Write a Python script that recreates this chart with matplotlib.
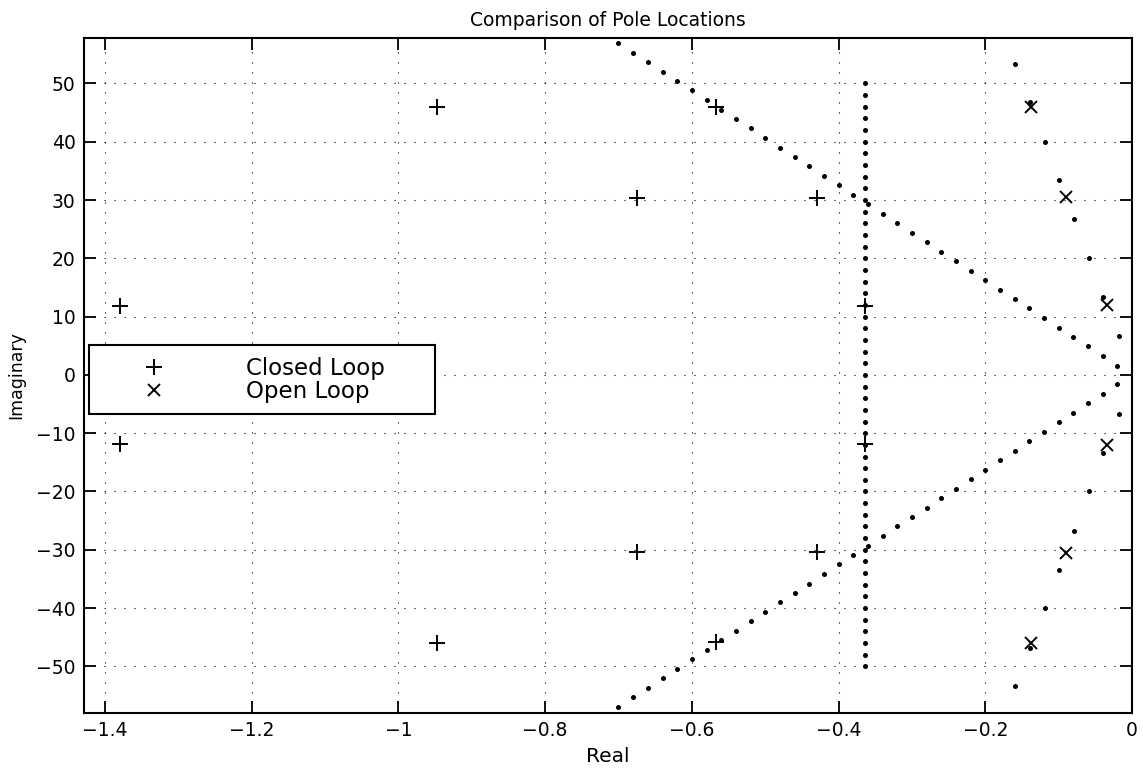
import numpy as np
import matplotlib
matplotlib.use('Agg')
import matplotlib.pyplot as plt

# closed loop poles (real, imaginary)
closed_re = [-1.380, -1.380, -0.947, -0.947, -0.675, -0.675,
             -0.567, -0.567, -0.430, -0.430, -0.364, -0.364]
closed_im = [11.9, -11.9, 46.0, -46.0, 30.4, -30.4,
             45.9, -45.9, 30.4, -30.4, 11.9, -11.9]

# open loop poles
open_re = [-0.137, -0.137, -0.090, -0.090, -0.034, -0.034]
open_im = [46.0, -46.0, 30.5, -30.5, 12.0, -12.0]

# constant damping ratio boundary (upper half, mirrored below)
zeta_re = [-0.70, -0.68, -0.66, -0.64, -0.62, -0.60, -0.58, -0.56, -0.54,
           -0.52, -0.50, -0.48, -0.46, -0.44, -0.42, -0.40, -0.38, -0.36,
           -0.34, -0.32, -0.30, -0.28, -0.26, -0.24, -0.22, -0.20, -0.18,
           -0.16, -0.14, -0.12, -0.10, -0.08, -0.06, -0.04, -0.02]
zeta_im = [56.9, 55.3, 53.7, 52.0, 50.4, 48.8, 47.2, 45.5, 43.9,
           42.3, 40.7, 39.0, 37.4, 35.8, 34.1, 32.5, 30.9, 29.3,
           27.6, 26.0, 24.4, 22.8, 21.1, 19.5, 17.9, 16.3, 14.6,
           13.0, 11.4, 9.8, 8.1, 6.5, 4.9, 3.3, 1.6]

# open loop damping line (upper half, mirrored below)
ol_re = [-0.018, -0.039, -0.059, -0.079, -0.099, -0.119, -0.139, -0.159]
ol_im = [6.7, 13.4, 20.0, 26.7, 33.4, 40.0, 46.8, 53.3]

# constant decay rate boundary
sigma_re = -0.364
sigma_im = [-50, -48, -46, -44, -42, -40, -38, -36, -34, -32, -30, -28, -26,
            -24, -22, -20, -18, -16, -14, -12, -10, -8, -6, -4, -2, 0,
            2, 4, 6, 8, 10, 12, 14, 16, 18, 20, 22, 24, 26, 28, 30, 32,
            34, 36, 38, 40, 42, 44, 46, 48, 50]

xticks = [-1.4, -1.2, -1.0, -0.8, -0.6, -0.4, -0.2, 0.0]
xtick_labels = ['\u22121.4', '\u22121.2', '\u22121', '\u22120.8',
                '\u22120.6', '\u22120.4', '\u22120.2', '0']
yticks = [-50, -40, -30, -20, -10, 0, 10, 20, 30, 40, 50]

W, H = 1143, 768
fig = plt.figure(figsize=(W / 100, H / 100), dpi=100)
ax = fig.add_axes([84 / W, (H - 713) / H, (1132 - 84) / W, (713 - 38) / H])

dot = dict(linestyle='none', marker='o', markersize=3.6, color='black',
           markeredgewidth=0)
ax.plot(zeta_re, zeta_im, **dot)
ax.plot(zeta_re, -np.array(zeta_im), **dot)
ax.plot(ol_re, ol_im, **dot)
ax.plot(ol_re, -np.array(ol_im), **dot)
ax.plot([sigma_re] * len(sigma_im), sigma_im, **dot)

h_cl, = ax.plot(closed_re, closed_im, linestyle='none', marker='+',
                markersize=11, markeredgewidth=1.4, color='black',
                label='Closed Loop')
h_ol, = ax.plot(open_re, open_im, linestyle='none', marker='x',
                markersize=8, markeredgewidth=1.4, color='black',
                label='Open Loop')

ax.set_xlim(-1.4286, 0)
ax.set_ylim(-58.0, 57.8)
ax.set_xticks(xticks)
ax.set_xticklabels(xtick_labels)
ax.set_yticks(yticks)
ax.tick_params(direction='in', top=True, right=True, length=8.5,
               width=1.3, labelsize=13.5, pad=6)
for s in ax.spines.values():
    s.set_linewidth(1.5)

ax.set_axisbelow(True)
ax.grid(True, color='black', linestyle=(0, (1, 8)), linewidth=0.8)

ax.set_title('Comparison of Pole Locations', fontsize=13.5, pad=9)
ax.set_xlabel('Real', fontsize=14.5, labelpad=5)
ax.set_ylabel('Imaginary', fontsize=12.5, labelpad=8)

leg = ax.legend(handles=[h_cl, h_ol], loc='upper left',
                bbox_to_anchor=(0.0048, 0.545, 0.33, 0.0), mode='expand',
                borderaxespad=0, fontsize=16.5, borderpad=0.5,
                labelspacing=0.0, handlelength=4.65, handletextpad=1.72,
                fancybox=False, framealpha=1, edgecolor='black')
leg.get_frame().set_linewidth(1.5)

fig.savefig('out.png', dpi=100)
